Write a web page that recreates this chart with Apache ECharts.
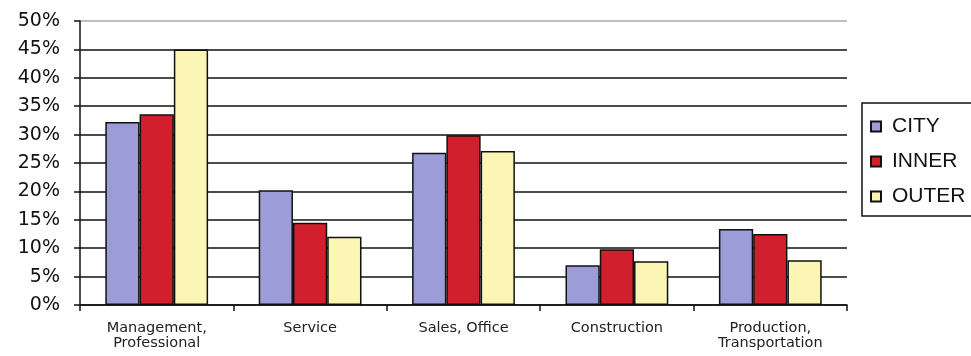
<!DOCTYPE html>
<html>
<head>
<meta charset="utf-8">
<script src="https://cdn.jsdelivr.net/npm/echarts@6/dist/echarts.min.js"></script>
<style>
html,body{margin:0;padding:0;background:#fff;}
#chart{width:971px;height:356px;}
</style>
</head>
<body>
<div id="chart"></div>
<script>
// Occupation share by area (percent)
const categories = ['Management,\nProfessional', 'Service', 'Sales, Office', 'Construction', 'Production,\nTransportation'];
const cityValues  = [32.2, 20.2, 26.8, 7.0, 13.4];
const innerValues = [33.6, 14.5, 29.9, 9.8, 12.5];
const outerValues = [45.0, 12.0, 27.1, 7.7, 7.9];
const seriesNames = ['CITY', 'INNER', 'OUTER'];
const seriesColors = ['#9c9cd8', '#d11f2d', '#fbf6b4'];

const FONT = 'DejaVu Sans, Liberation Sans, sans-serif';
const chart = echarts.init(document.getElementById('chart'));

const barStyle = (color) => ({ color: color, borderColor: '#111', borderWidth: 1.5 });

chart.setOption({
  animation: false,
  backgroundColor: '#fff',
  grid: { left: 80, right: 124, top: 21, bottom: 51 },
  legend: {
    orient: 'vertical',
    left: 862, top: 103,
    data: seriesNames,
    icon: 'rect',
    itemWidth: 10, itemHeight: 10,
    itemGap: 14,
    padding: [13, 30, 9, 8],
    borderColor: '#111', borderWidth: 1.5,
    textStyle: { fontFamily: 'Liberation Sans, Arial, sans-serif', fontSize: 21, color: '#111', padding: [0, 0, 0, 6] }
  },
  xAxis: {
    type: 'category',
    data: categories,
    axisLine: { lineStyle: { color: '#111', width: 1.5 } },
    axisTick: { show: true, length: 6, lineStyle: { color: '#111', width: 1.5 } },
    axisLabel: {
      fontFamily: FONT,
      fontSize: 14.5, color: '#222', lineHeight: 15, margin: 16
    }
  },
  yAxis: {
    type: 'value',
    min: 0, max: 50, interval: 5,
    axisLine: { show: true, lineStyle: { color: '#111', width: 1.5 } },
    axisTick: { show: true, length: 6, lineStyle: { color: '#111', width: 1.5 } },
    axisLabel: {
      formatter: '{value}%',
      fontFamily: FONT,
      fontSize: 19, color: '#111', margin: 20
    },
    splitLine: {
      lineStyle: { color: ['#111','#111','#111','#111','#111','#111','#111','#111','#111','#111','#aaa'], width: 1.5 }
    }
  },
  series: [
    { name: seriesNames[0], type: 'bar', data: cityValues,  itemStyle: barStyle(seriesColors[0]), barGap: '0%', barCategoryGap: '33%' },
    { name: seriesNames[1], type: 'bar', data: innerValues, itemStyle: barStyle(seriesColors[1]), barGap: '0%', barCategoryGap: '33%' },
    { name: seriesNames[2], type: 'bar', data: outerValues, itemStyle: barStyle(seriesColors[2]), barGap: '0%', barCategoryGap: '33%' }
  ]
});
</script>
</body>
</html>
